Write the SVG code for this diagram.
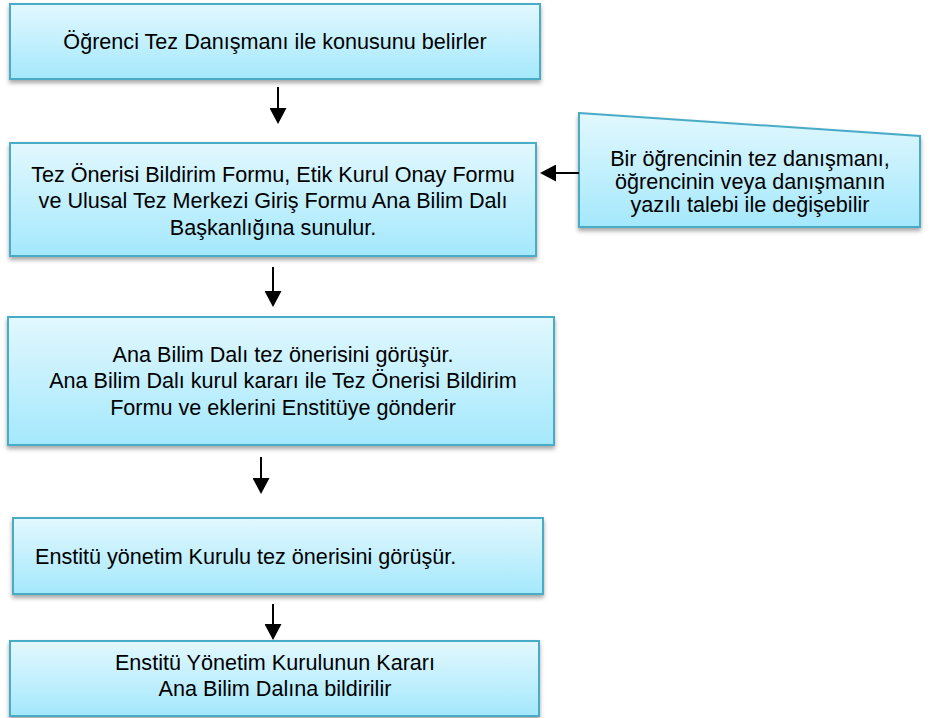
<svg xmlns="http://www.w3.org/2000/svg" width="932" height="718" viewBox="0 0 932 718">
<defs>
<linearGradient id="fill" x1="0" y1="0" x2="0" y2="1">
<stop offset="0" stop-color="#E2F8FE"/>
<stop offset="1" stop-color="#A4E8FC"/>
</linearGradient>
<filter id="sh" x="-5%" y="-10%" width="110%" height="130%">
<feDropShadow dx="0" dy="3" stdDeviation="2" flood-color="#000" flood-opacity="0.35"/>
</filter>
<marker id="ah" markerUnits="userSpaceOnUse" markerWidth="17" markerHeight="17" refX="1" refY="8.5" orient="auto">
<path d="M0,0 L16,8.5 L0,17 z" fill="#000"/>
</marker>
</defs>
<style>
.box{fill:url(#fill);stroke:#4AACC6;stroke-width:2;filter:url(#sh)}
text{font-family:"Liberation Sans",Arial,sans-serif;font-size:21.6px;fill:#000}
.c{text-anchor:middle}
.con{stroke:#000;stroke-width:2;fill:none;marker-end:url(#ah)}
</style>
<rect width="932" height="718" fill="#fff"/>
<g id="n1">
<rect class="box" x="10" y="4" width="530" height="75"/>
<text class="c" x="275" y="49">Öğrenci Tez Danışmanı ile konusunu belirler</text>
</g>
<g id="n2">
<rect class="box" x="10" y="143" width="526" height="113"/>
<text class="c" x="273" y="181.5">Tez Önerisi Bildirim Formu, Etik Kurul Onay Formu</text>
<text class="c" x="273" y="208">ve Ulusal Tez Merkezi Giriş Formu Ana Bilim Dalı</text>
<text class="c" x="273" y="234.5">Başkanlığına sunulur.</text>
</g>
<g id="n6">
<polygon class="box" points="579,113 920,136 920,227 579,227"/>
<text class="c" x="750" y="166">Bir öğrencinin tez danışmanı,</text>
<text class="c" x="750" y="189">öğrencinin veya danışmanın</text>
<text class="c" x="750" y="212">yazılı talebi ile değişebilir</text>
</g>
<g id="n3">
<rect class="box" x="8" y="317" width="546" height="128"/>
<text class="c" x="283" y="361.5">Ana Bilim Dalı tez önerisini görüşür.</text>
<text class="c" x="283" y="388">Ana Bilim Dalı kurul kararı ile Tez Önerisi Bildirim</text>
<text class="c" x="283" y="414.5">Formu ve eklerini Enstitüye gönderir</text>
</g>
<g id="n4">
<rect class="box" x="13" y="518" width="530" height="76"/>
<text x="35" y="564">Enstitü yönetim Kurulu tez önerisini görüşür.</text>
</g>
<g id="n5">
<rect class="box" x="10" y="641" width="529" height="75"/>
<text class="c" x="275" y="670">Enstitü Yönetim Kurulunun Kararı</text>
<text class="c" x="275" y="696">Ana Bilim Dalına bildirilir</text>
</g>
<g id="connectors">
<line class="con" x1="278" y1="87" x2="278" y2="109"/>
<line class="con" x1="273" y1="267" x2="273" y2="292"/>
<line class="con" x1="261" y1="457" x2="261" y2="479"/>
<line class="con" x1="273" y1="604" x2="273" y2="625"/>
<line class="con" x1="579" y1="173" x2="555" y2="173"/>
</g>
</svg>
